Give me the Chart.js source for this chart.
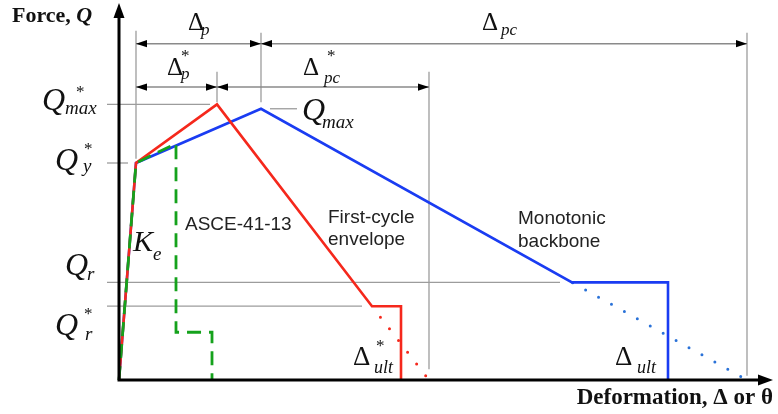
<!DOCTYPE html>
<html>
<head>
<meta charset="utf-8">
<script src="https://cdn.jsdelivr.net/npm/chart.js@4/dist/chart.umd.min.js"></script>
<style>
  html, body { margin: 0; padding: 0; background: #ffffff; }
  canvas { display: block; }
</style>
</head>
<body>
<canvas id="c" width="778" height="414"></canvas>
<script>
// Force normalised by Q*y, deformation in arbitrary units.
// Monotonic backbone
const backboneDef      = [0, 0.17, 1.42, 4.53, 5.49, 5.49];
const backboneForce    = [0, 1.00, 1.25, 0.45, 0.45, 0];
const backboneExtDef   = [4.53, 6.28];
const backboneExtForce = [0.45, 0];
// First-cycle envelope
const firstCycleDef      = [0, 0.17, 0.98, 2.53, 2.82, 2.82];
const firstCycleForce    = [0, 1.00, 1.27, 0.34, 0.34, 0];
const firstCycleExtDef   = [2.53, 3.10];
const firstCycleExtForce = [0.34, 0];
// ASCE-41-13 curve
const asceDef   = [0, 0.17, 0.57, 0.57, 0.93, 0.93];
const asceForce = [0, 1.00, 1.09, 0.22, 0.22, 0];

// Axis extents
const axisDefEnd   = 6.54;
const axisForceEnd = 1.737;

// Characteristic points taken from the curves
const Qy      = backboneForce[1];
const QmaxB   = backboneForce[2];
const QmaxF   = firstCycleForce[2];
const QrB     = backboneForce[3];
const QrF     = firstCycleForce[3];
const dYield  = backboneDef[1];
const dPeakB  = backboneDef[2];
const dPeakF  = firstCycleDef[2];
const dResB   = backboneDef[3];
const dResF   = firstCycleDef[3];
const dUltB   = backboneDef[4];
const dUltF   = firstCycleDef[4];
const dZeroB  = backboneExtDef[1];
const dZeroF  = firstCycleExtDef[1];
const dAsce   = asceDef[2];

const toPts = (xs, ys) => xs.map((x, i) => ({ x: x, y: ys[i] }));

const RED = '#f5281c';
const BLUE = '#1a3cf2';
const GREEN = '#15a21c';
const GUIDE = '#9c9c9c';
const SERIF = '"Liberation Serif", "Times New Roman", serif';
const SANS = '"Liberation Sans", Arial, sans-serif';

// Dimension rows (force level of the arrow lines)
const rowUpper = 1.55;
const rowLower = 1.35;

const schematic = {
  id: 'schematic',
  beforeDatasetsDraw(chart) {
    const ctx = chart.ctx;
    const sx = chart.scales.x, sy = chart.scales.y;
    const X = v => sx.getPixelForValue(v);
    const Y = v => sy.getPixelForValue(v);
    ctx.save();
    ctx.strokeStyle = GUIDE;
    ctx.lineWidth = 1.3;
    const seg = (x1, y1, x2, y2) => {
      ctx.beginPath(); ctx.moveTo(x1, y1); ctx.lineTo(x2, y2); ctx.stroke();
    };
    // horizontal reference levels
    seg(X(-0.12), Y(QmaxF), X(0.91), Y(QmaxF));
    seg(X(-0.12), Y(Qy), X(0.09), Y(Qy));
    seg(X(-0.12), Y(QrB), X(4.41), Y(QrB));
    seg(X(-0.12), Y(QrF), X(2.43), Y(QrF));
    seg(X(1.51), Y(QmaxB), X(1.78), Y(QmaxB));
    // vertical extension lines
    seg(X(dYield), Y(1.61), X(dYield), Y(1.02));
    seg(X(dPeakF), Y(1.42), X(dPeakF), Y(1.28));
    seg(X(dPeakB), Y(1.60), X(dPeakB), Y(1.28));
    seg(X(dZeroF), Y(1.42), X(dZeroF), Y(0.05));
    seg(X(dZeroB), Y(1.60), X(dZeroB), Y(0.02));

    // dimension lines with arrowheads
    const head = (x, y, dir) => {
      ctx.fillStyle = '#000';
      ctx.beginPath();
      ctx.moveTo(x, y);
      ctx.lineTo(x - dir * 11, y - 3.6);
      ctx.lineTo(x - dir * 11, y + 3.6);
      ctx.closePath();
      ctx.fill();
    };
    const dim = (a, b, row) => {
      const y = Y(row);
      ctx.strokeStyle = '#8a8a8a';
      ctx.lineWidth = 1.5;
      seg(X(a), y, X(b), y);
      head(X(a), y, -1);
      head(X(b), y, 1);
    };
    dim(dYield, dPeakB, rowUpper);
    dim(dPeakB, dZeroB, rowUpper);
    dim(dYield, dPeakF, rowLower);
    dim(dPeakF, dZeroF, rowLower);
    ctx.restore();
  },
  afterDatasetsDraw(chart) {
    const ctx = chart.ctx;
    const sx = chart.scales.x, sy = chart.scales.y;
    const X = v => sx.getPixelForValue(v);
    const Y = v => sy.getPixelForValue(v);
    ctx.save();
    // axes
    const ox = X(0), oy = Y(0);
    const xe = X(axisDefEnd), ye = Y(axisForceEnd);
    ctx.strokeStyle = '#000';
    ctx.fillStyle = '#000';
    ctx.lineWidth = 3;
    ctx.lineCap = 'square';
    ctx.beginPath();
    ctx.moveTo(ox, ye + 10);
    ctx.lineTo(ox, oy);
    ctx.lineTo(xe - 10, oy);
    ctx.stroke();
    ctx.beginPath();
    ctx.moveTo(ox, ye); ctx.lineTo(ox - 5.5, ye + 15); ctx.lineTo(ox + 5.5, ye + 15); ctx.closePath(); ctx.fill();
    ctx.beginPath();
    ctx.moveTo(xe, oy); ctx.lineTo(xe - 15, oy - 5.5); ctx.lineTo(xe - 15, oy + 5.5); ctx.closePath(); ctx.fill();

    // symbol labels: runs of [text, dx, dy, font] placed from an anchor point
    ctx.fillStyle = '#111';
    ctx.textBaseline = 'alphabetic';
    ctx.textAlign = 'left';
    const label = (ax, ay, runs) => {
      const px = X(ax), py = Y(ay);
      runs.forEach(r => {
        ctx.font = r[3] + ' ' + SERIF;
        ctx.fillText(r[0], px + r[1], py + r[2]);
      });
    };
    const Q = 'italic 32px', SUB = 'italic 19px', STAR = '17px', D = '25px', DS = 'italic 17px';
    label(0, QmaxF, [['Q', -77, 6, Q], ['*', -43, -7, STAR], ['max', -54, 10, SUB]]);
    label(0, Qy,    [['Q', -64, 7, Q], ['*', -35, -9, STAR], ['y', -36, 9, SUB]]);
    label(0, QrB,   [['Q', -54, -7, Q], ['r', -32, -2, SUB]]);
    label(0, QrF,   [['Q', -64, 29, Q], ['*', -35, 13, STAR], ['r', -34, 34, SUB]]);
    label(dPeakB, QmaxB, [['Q', 41, 11, Q], ['max', 61, 19, SUB]]);
    label(dYield, Qy, [['K', -3, 88, 'italic 30px'], ['e', 17, 97, SUB]]);
    label((dYield + dPeakB) / 2, rowUpper, [['\u0394', -10.5, -13.6, D], ['p', 2.5, -8.6, DS]]);
    label((dYield + dPeakF) / 2, rowLower, [['\u0394', -9.5, -12, D], ['*', 4.5, -26, STAR], ['p', 4.5, -8, DS]]);
    label((dPeakB + dZeroB) / 2, rowUpper, [['\u0394', -22, -13.6, D], ['pc', -3, -8.6, DS]]);
    label((dPeakF + dZeroF) / 2, rowLower, [['\u0394', -20, -12, D], ['*', 4, -26, STAR], ['pc', 1, -4, DS]]);
    label(dUltF, 0, [['\u0394', -48, -15, '27px'], ['*', -25, -29, STAR], ['ult', -27, -7, 'italic 18px']]);
    label(dUltB, 0, [['\u0394', -53, -15, '27px'], ['ult', -31, -7, 'italic 18px']]);

    // curve names
    ctx.fillStyle = '#222';
    ctx.font = '19px ' + SANS;
    ctx.fillText('ASCE-41-13', X(dAsce) + 9, Y(asceForce[2]) + 86.5);
    ctx.fillText('First-cycle', X(dResF) - 44, Y(QrF) - 83);
    ctx.fillText('envelope', X(dResF) - 44, Y(QrF) - 61);
    ctx.fillText('Monotonic', X(dResB) - 54, Y(QrB) - 58);
    ctx.fillText('backbone', X(dResB) - 54, Y(QrB) - 35);

    // axis titles
    ctx.fillStyle = '#111';
    ctx.font = 'bold 22px ' + SERIF;
    ctx.fillText('Force, ', ox - 107, oy - 358);
    const fw = ctx.measureText('Force, ').width;
    ctx.font = 'bold italic 22px ' + SERIF;
    ctx.fillText('Q', ox - 107 + fw, oy - 358);
    ctx.font = 'bold 23px ' + SERIF;
    ctx.textAlign = 'right';
    ctx.fillText('Deformation, \u0394 or \u03b8', xe, oy + 24);
    ctx.restore();
  }
};

const line = (pts, color, extra) => Object.assign({
  data: pts, showLine: true, borderColor: color, backgroundColor: color,
  borderWidth: 2.6, pointRadius: 0, tension: 0, clip: false, fill: false
}, extra || {});

new Chart(document.getElementById('c'), {
  type: 'scatter',
  data: {
    datasets: [
      line(toPts(asceDef, asceForce), GREEN, { borderWidth: 2.8, borderDash: [14, 8] }),
      line(toPts(firstCycleDef, firstCycleForce), RED),
      line(toPts(firstCycleExtDef, firstCycleExtForce), RED,
           { borderWidth: 3, borderDash: [0, 14.8], borderDashOffset: 1, borderCapStyle: 'round' }),
      line(toPts(backboneDef, backboneForce), BLUE),
      line(toPts(backboneExtDef, backboneExtForce), '#2a72d8',
           { borderWidth: 3, borderDash: [0, 14.8], borderDashOffset: -0.8, borderCapStyle: 'round' })
    ]
  },
  options: {
    responsive: false,
    animation: false,
    devicePixelRatio: 1,
    layout: { padding: 0 },
    plugins: { legend: { display: false }, tooltip: { enabled: false } },
    scales: {
      x: { type: 'linear', display: false, min: -1.19, max: 6.59 },
      y: { type: 'linear', display: false, min: -34 / 217, max: 380 / 217 }
    }
  },
  plugins: [schematic]
});
</script>
</body>
</html>
